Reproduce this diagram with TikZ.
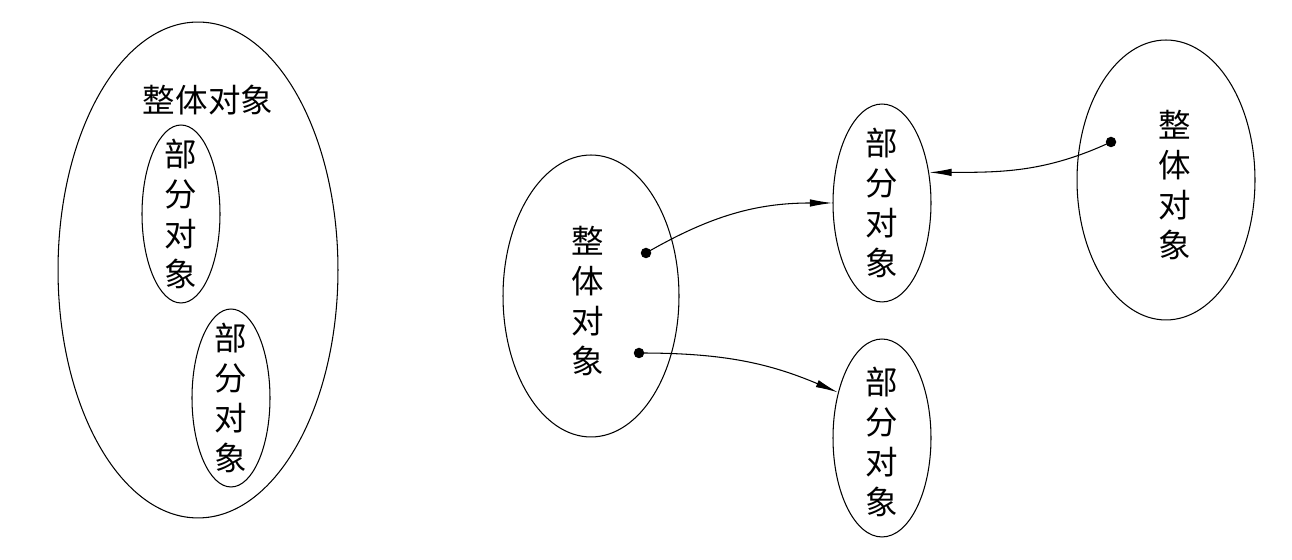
\documentclass[tikz,border=0pt]{standalone}
\usepackage{fontspec}
\newfontfamily\cjk{Noto Sans CJK SC}
\usetikzlibrary{shapes.geometric,arrows.meta}
\begin{document}
\begin{tikzpicture}[x=0.02cm,y=0.02cm,
  obj/.style={draw, ellipse, line width=0.6pt, inner sep=0pt},
  word/.style={inner sep=0pt, align=center, font=\cjk\fontsize{18.5}{22.8}\selectfont},
  dot/.style={circle, fill, inner sep=0pt, minimum size=0.21cm},
  link/.style={line width=0.6pt, -{Latex[length=0.45cm,width=0.15cm]}}]
\def\partw{1.96cm};
\def\parth{3.96cm};

\useasboundingbox (0,0) rectangle (1292,560);

% whole holding its parts
\node[obj, minimum width=5.6cm, minimum height=9.92cm] (W) at (198, 290) {};
\node[word] (Wt) at (208, 460) {整体对象};
\node[obj, minimum width=1.56cm, minimum height=3.56cm,
  label={[word]center:部\\分\\对\\象}] (Wa) at (181, 346) {};
\node[obj, minimum width=1.56cm, minimum height=3.56cm,
  label={[word]center:部\\分\\对\\象}] (Wb) at (231, 162) {};

% wholes pointing at parts
\node[obj, minimum width=3.52cm, minimum height=5.64cm,
  label={[word, xshift=-0.06cm, yshift=-0.1cm]center:整\\体\\对\\象}] (V) at (591, 264) {};
\node[obj, minimum width=\partw, minimum height=\parth,
  label={[word]center:部\\分\\对\\象}] (P) at (882, 357) {};
\node[obj, minimum width=\partw, minimum height=\parth,
  label={[word, yshift=-0.08cm]center:部\\分\\对\\象}] (Q) at (882, 122) {};
\node[obj, minimum width=3.56cm, minimum height=5.6cm,
  label={[word, xshift=0.18cm, yshift=-0.1cm]center:整\\体\\对\\象}] (U) at (1166, 380) {};

\node[dot] (V1) at (646, 307) {};
\node[dot] (V2) at (639, 207) {};
\node[dot] (U1) at (1111, 418) {};

\draw[link] (V1.center) to[out=30, in=180] (P.west);
\draw[link] (V2.center) to[out=0, in=157] (Q.134);
\draw[link] (U1.center) to[out=205, in=0] (P.33);

\end{tikzpicture}
\end{document}
